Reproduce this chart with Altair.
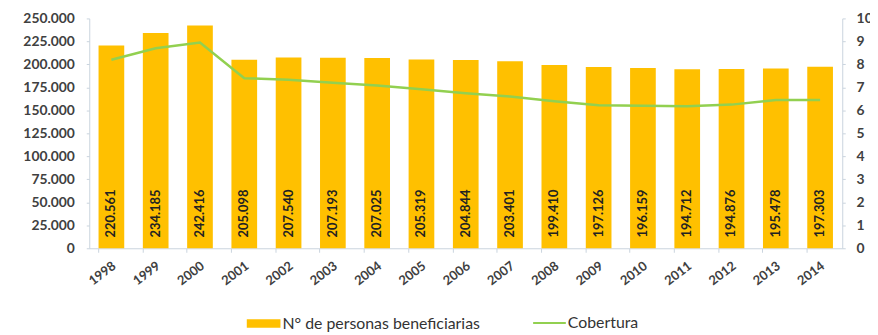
import altair as alt
import pandas as pd

years = [str(y) for y in range(1998, 2015)]
beneficiarios = [220561, 234185, 242416, 205098, 207540, 207193, 207025, 205319,
                 204844, 203401, 199410, 197126, 196159, 194712, 194876, 195478, 197303]
cobertura = [8.2, 8.7, 8.95, 7.4, 7.33, 7.2, 7.08, 6.92, 6.74, 6.6, 6.4, 6.22,
             6.2, 6.18, 6.25, 6.45, 6.45]

bar_name = "N° de personas beneficiarias"
line_name = "Cobertura"

df = pd.DataFrame({
    "year": years,
    "ben": beneficiarios,
    "cob": cobertura,
    "lab": [f"{v:,}".replace(",", ".") for v in beneficiarios],
    "s1": bar_name,
    "s2": line_name,
})

FONT = "Lato"
x = alt.X("year:N", title=None, scale=alt.Scale(paddingInner=0.42, paddingOuter=0.21),
          axis=alt.Axis(labelAngle=-37, labelAlign="right", labelBaseline="middle",
                        bandPosition=0, labelOffset=3, labelPadding=12,
                        tickSize=4, domainColor="#c9d3de", tickColor="#c9d3de",
                        labelFont=FONT, labelFontSize=13, labelFontWeight="bold",
                        labelColor="#404040"))

bars = alt.Chart(df).mark_bar(color="#FFC000").encode(
    x=x,
    y=alt.Y("ben:Q", title=None,
            scale=alt.Scale(domain=[0, 250000], nice=False),
            axis=alt.Axis(values=list(range(0, 250001, 25000)),
                          labelExpr="replace(format(datum.value, ',d'), ',', '.')",
                          grid=False, tickSize=3, domainColor="#c9d3de", tickColor="#c9d3de",
                          labelFont=FONT, labelFontSize=14, labelFontWeight="bold",
                          labelColor="#404040", labelPadding=12)),
    color=alt.Color("s1:N", title=None,
                    scale=alt.Scale(domain=[bar_name], range=["#FFC000"]),
                    legend=alt.Legend(orient="none", legendX=158, legendY=290,
                                      symbolType="M-1,-0.25H1V0.25H-1Z", symbolSize=1156,
                                      labelFont=FONT, labelFontSize=16, labelLimit=400,
                                      labelColor="#333333", labelOffset=1)),
)

texts = alt.Chart(df).mark_text(angle=270, align="left", baseline="middle", dx=11,
                                font=FONT, fontSize=13, fontWeight="bold",
                                color="#222222").encode(
    x=x,
    y=alt.value(232),
    text="lab:N",
)

line = alt.Chart(df).mark_line(strokeWidth=2.5).encode(
    x=x,
    y=alt.Y("cob:Q", title=None,
            scale=alt.Scale(domain=[0, 10], nice=False),
            axis=alt.Axis(orient="right", values=list(range(0, 11)), grid=False,
                          tickSize=3, domainColor="#c9d3de", tickColor="#c9d3de",
                          labelFont=FONT, labelFontSize=14, labelFontWeight="bold",
                          labelColor="#404040", labelPadding=11)),
    stroke=alt.Stroke("s2:N", title=None,
                      scale=alt.Scale(domain=[line_name], range=["#92D050"]),
                      legend=alt.Legend(orient="none", legendX=447, legendY=290,
                                        symbolType="stroke", symbolSize=1089,
                                        symbolStrokeWidth=2, labelLimit=400,
                                        labelFont=FONT, labelFontSize=16,
                                        labelColor="#333333", labelOffset=1)),
)

chart = alt.layer(bars, texts, line).resolve_scale(y="independent").properties(
    width=760, height=232,
    autosize=alt.AutoSizeParams(type="none"),
    padding={"left": 82, "top": 9, "right": 28, "bottom": 84},
).configure_view(stroke=None)

chart.save("out.html", embed_options={"renderer": "svg", "actions": False})
